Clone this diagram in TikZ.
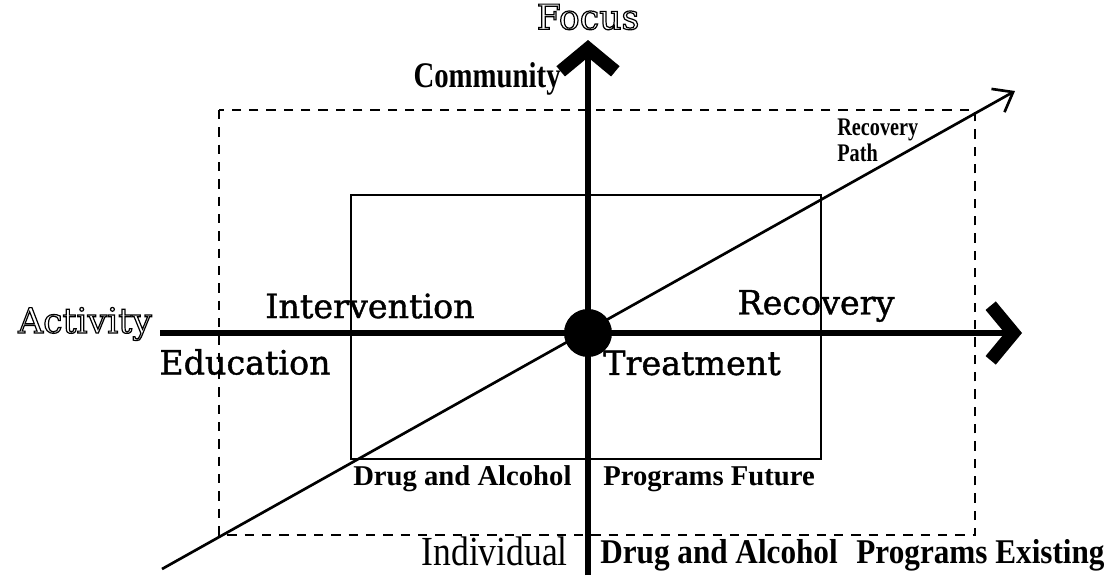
\documentclass[tikz,border=0pt]{standalone}
\usepackage{fontspec}
\setmainfont{DejaVu Serif}
\newfontfamily\labelfont[FakeBold=1.2]{DejaVu Serif}
\newfontfamily\timesfont{Liberation Serif}
\newfontfamily\narrowfont[FakeStretch=0.86]{Liberation Serif}
\newfontfamily\tallfont[FakeStretch=0.8]{Liberation Serif}
\newfontfamily\widefont[FakeStretch=0.9]{Liberation Serif}
\usetikzlibrary{positioning, arrows.meta}

% outlined letters for the axis names
\newcommand{\hollow}[1]{\special{pdf:literal direct 1 Tr 0.9 w}#1\special{pdf:literal direct 0 Tr}}

\tikzset{
  axis/.style={line width=5pt, -{Straight Barb[length=17pt,width=41pt,line width=10pt]}},
  route/.style={line width=2pt, -{Straight Barb[length=13pt,width=20pt,line width=2pt]}},
  outerframe/.style={line width=2pt, dash pattern=on 7pt off 6pt},
  innerframe/.style={line width=1.5pt},
  bigtext/.style={inner sep=0pt, font=\labelfont\fontsize{25}{28}\selectfont},
  axisname/.style={inner sep=0pt, font=\fontsize{26}{28}\selectfont},
  smalltext/.style={inner sep=0pt, font=\timesfont\bfseries\fontsize{21.5}{24}\selectfont},
  lowtext/.style={inner sep=0pt},
}

\begin{document}
\begin{tikzpicture}[x=0.75pt,y=-0.75pt]
    \useasboundingbox (0,0) rectangle (1112,575);

    % the two frames
    \draw[outerframe] (219,110) rectangle (975,535);
    \draw[innerframe] (351,195) rectangle (821,459);

    % axes and the centre
    \node[circle,fill,minimum size=36pt,inner sep=0pt] (hub) at (588,333) {};
    \coordinate (south) at (588,575);
    \coordinate (north) at (588,40);
    \coordinate (west) at (160,333);
    \coordinate (east) at (1022,333);
    \draw[axis] (south) -- (north);
    \draw[axis] (west) -- (east);

    % recovery path
    \coordinate (start) at (162,569);
    \coordinate (finish) at (1015,91);
    \draw[route] (start) -- (finish);

    % labels
    \node[axisname] (focus) at (588,17) {\hollow{Focus}};
    \node[axisname, anchor=east] (activity) at (152,324) {\hollow{Activity}};
    \node[inner sep=0pt, anchor=base east, font=\tallfont\bfseries\fontsize{27}{28}\selectfont] (community) at (561,87) {Community};
    \node[inner sep=0pt, anchor=north west, align=left, font=\tallfont\bfseries\fontsize{19}{19}\selectfont] (pathlabel) at (837,119) {Recovery\\Path};

    \node[bigtext] (intervention) at (370,306) {Intervention};
    \node[bigtext] (recovery) at (816,306) {Recovery};
    \node[bigtext] (education) at (245,362) {Education};
    \node[bigtext] (treatment) at (692,363) {Treatment};

    \node[smalltext, anchor=base west] (future1) at (353,485) {Drug and Alcohol};
    \node[smalltext, anchor=base west] (future2) at (603,485) {Programs Future};

    \node[lowtext, anchor=base east, font=\narrowfont\fontsize{31}{34}\selectfont] (individual) at (568,565) {Individual};
    \node[lowtext, anchor=base west, font=\widefont\bfseries\fontsize{26}{28}\selectfont] (existing) at (600,563) {Drug and Alcohol\hspace{14pt}Programs Existing};
\end{tikzpicture}
\end{document}
